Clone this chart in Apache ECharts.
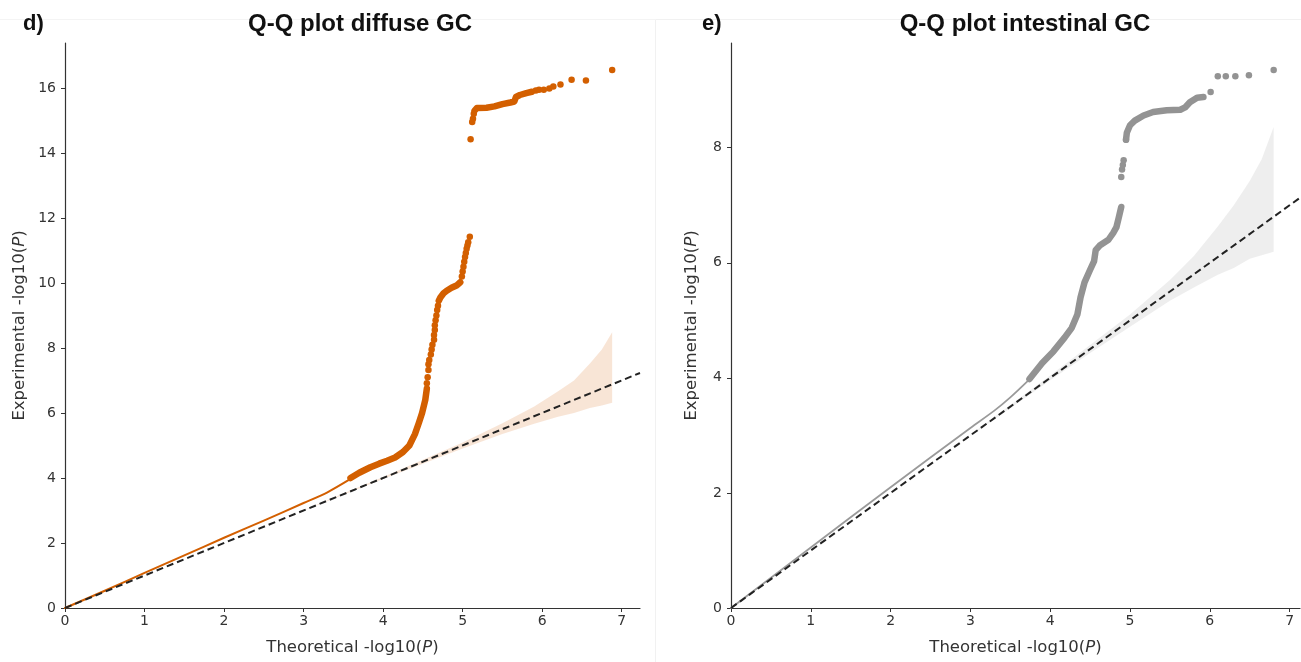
<!DOCTYPE html>
<html>
<head>
<meta charset="utf-8">
<script src="https://cdn.jsdelivr.net/npm/echarts@6/dist/echarts.min.js"></script>
<style>
html,body{margin:0;padding:0;background:#fff;}
#c{width:1301px;height:662px;}
</style>
</head>
<body>
<div id="c"></div>
<script>
// ---------- Panel d) diffuse GC ----------
const dTitle = 'Q-Q plot diffuse GC';
const dXTicks = [0, 1, 2, 3, 4, 5, 6, 7];
const dYTicks = [0, 2, 4, 6, 8, 10, 12, 14, 16];
// thin line part (dense low range)
const dLine = [[0,0],[0.5,0.53],[1,1.08],[1.5,1.62],[2,2.16],[2.5,2.69],[3,3.23],[3.3,3.56],[3.59,3.97]];
// dense (overlapping dot) traces
const dDenseA = [[3.59,4.0],[3.7,4.16],[3.84,4.33],[3.95,4.44],[4.05,4.53],[4.15,4.63],[4.25,4.8],[4.33,5.0],[4.4,5.35],[4.45,5.7],[4.49,6.0],[4.53,6.4],[4.55,6.75]];
const dDenseB = [[4.7,9.45],[4.72,9.55],[4.76,9.68],[4.8,9.76],[4.86,9.85],[4.93,9.93],[4.97,10.02]];
const dDenseC = [[5.15,15.3],[5.18,15.38],[5.3,15.39],[5.4,15.43],[5.5,15.5],[5.6,15.55],[5.65,15.58],[5.67,15.72],[5.72,15.78],[5.8,15.84],[5.87,15.88]];
// separate dots
const dDots = [[4.55,6.91],[4.56,7.1],[4.57,7.32],[4.57,7.5],[4.58,7.63],[4.6,7.8],[4.61,7.95],[4.62,8.1],[4.64,8.25],[4.64,8.4],[4.65,8.55],[4.65,8.7],[4.66,8.85],[4.67,9.0],[4.68,9.17],[4.69,9.3],
  [4.99,10.2],[5.0,10.35],[5.01,10.5],[5.02,10.65],[5.03,10.8],[5.04,10.92],[5.05,11.05],[5.06,11.15],[5.07,11.25],[5.09,11.42],
  [5.1,14.42],[5.12,14.95],[5.13,15.05],[5.14,15.2],
  [5.92,15.92],[5.96,15.94],[6.02,15.94],[6.09,15.98],[6.14,16.04],[6.23,16.1],[6.37,16.25],[6.55,16.23],[6.88,16.55]];
// confidence band
const dBandX = [3.0,3.5,4.0,4.5,5.0,5.5,5.9,6.2,6.4,6.6,6.75,6.88];
const dBandLow = [2.99,3.48,3.97,4.44,4.91,5.35,5.67,5.88,6.0,6.15,6.23,6.31];
const dBandHigh = [3.01,3.52,4.03,4.56,5.09,5.68,6.2,6.67,7.0,7.52,7.95,8.48];
const dDiag = [0, 7.23];

// ---------- Panel e) intestinal GC ----------
const eTitle = 'Q-Q plot intestinal GC';
const eXTicks = [0, 1, 2, 3, 4, 5, 6, 7];
const eYTicks = [0, 2, 4, 6, 8];
const eLine = [[0,0],[1,1.05],[2,2.1],[3,3.13],[3.3,3.43],[3.5,3.66],[3.73,3.96]];
const eDenseA = [[3.74,3.98],[3.9,4.26],[4.04,4.46],[4.18,4.7],[4.27,4.87],[4.34,5.1],[4.38,5.4],[4.43,5.66],[4.5,5.88],[4.55,6.03],[4.57,6.22],[4.62,6.3],[4.73,6.4],[4.79,6.52],[4.83,6.62],[4.86,6.79],[4.89,6.97]];
const eDenseB = [[4.95,8.14],[4.96,8.26],[5.0,8.39],[5.06,8.47],[5.17,8.56],[5.29,8.62],[5.46,8.65],[5.63,8.66],[5.69,8.7],[5.75,8.79],[5.84,8.87],[5.92,8.88]];
const eDots = [[4.89,7.49],[4.9,7.62],[4.91,7.7],[4.92,7.78],[4.95,8.14],
  [6.01,8.97],[6.1,9.24],[6.2,9.24],[6.32,9.24],[6.49,9.26],[6.8,9.35]];
const eBandX = [3.0,3.5,4.0,4.5,5.0,5.5,5.8,6.1,6.3,6.5,6.65,6.8];
const eBandLow = [2.99,3.47,3.96,4.43,4.89,5.34,5.57,5.79,5.91,6.07,6.13,6.19];
const eBandHigh = [3.01,3.53,4.04,4.57,5.1,5.7,6.12,6.63,7.0,7.42,7.8,8.36];
const eDiag = [0, 7.13];

const ORANGE = '#d35f00';
const GREY_DOT = '#939393';
const TICK_FONT = 'DejaVu Sans';
const NAME_SIZE = 16.5;

function bandSeries(idx, xs, lo, hi, fill){
  return {
    type:'custom', xAxisIndex:idx, yAxisIndex:idx, z:1, silent:true,
    data:[[xs[0], lo[0]]],
    encode:{x:0,y:1},
    renderItem:function(params, api){
      const pts = [];
      for(let i=0;i<xs.length;i++) pts.push(api.coord([xs[i], hi[i]]));
      for(let i=xs.length-1;i>=0;i--) pts.push(api.coord([xs[i], lo[i]]));
      return {type:'polygon', shape:{points:pts}, style:{fill:fill}};
    }
  };
}
function lineS(idx, data, color, width, z, smooth){
  return {type:'line', xAxisIndex:idx, yAxisIndex:idx, data:data, showSymbol:false, symbol:'none', z:z,
    smooth:smooth||false,
    lineStyle:{color:color, width:width, cap:'round', join:'round'}, silent:true};
}
function dotS(idx, data, color, size){
  return {type:'scatter', xAxisIndex:idx, yAxisIndex:idx, data:data, symbolSize:size, z:5,
    itemStyle:{color:color, opacity:1}, silent:true};
}
function diagS(idx, ends){
  return {type:'line', xAxisIndex:idx, yAxisIndex:idx, data:ends.map(v=>[v,v]), symbol:'none', z:6, silent:true,
    lineStyle:{color:'#222', width:2, type:[7,4]}};
}
const nameStyle = {fontFamily:TICK_FONT, fontSize:NAME_SIZE, color:'#333',
  rich:{i:{fontStyle:'italic', fontFamily:TICK_FONT, fontSize:NAME_SIZE, color:'#333'}}};
function xAx(idx, max){
  return {type:'value', gridIndex:idx, min:0, max:max, interval:1,
    name:'Theoretical -log10({i|P})', nameLocation:'middle', nameGap:31,
    nameTextStyle:nameStyle,
    axisLine:{show:true, onZero:false, lineStyle:{color:'#333', width:1.2}},
    axisTick:{show:true, length:4, lineStyle:{color:'#333'}},
    axisLabel:{fontFamily:TICK_FONT, fontSize:14, color:'#333', margin:6, showMaxLabel:false,
      formatter:function(v){return Number.isInteger(v)?String(v):'';}},
    splitLine:{show:false}};
}
function yAx(idx, max, gap){
  return {type:'value', gridIndex:idx, min:0, max:max, interval:2,
    name:'Experimental -log10({i|P})', nameLocation:'middle', nameGap:gap, nameRotate:90,
    nameTextStyle:nameStyle,
    axisLine:{show:true, onZero:false, lineStyle:{color:'#333', width:1.2}},
    axisTick:{show:true, length:4, lineStyle:{color:'#333'}},
    axisLabel:{fontFamily:TICK_FONT, fontSize:14, color:'#333', margin:9, showMaxLabel:false,
      formatter:function(v){return Number.isInteger(v)?String(v):'';}},
    splitLine:{show:false}};
}

const chart = echarts.init(document.getElementById('c'), null, {renderer:'canvas'});
chart.setOption({
  animation:false,
  backgroundColor:'#fff',
  title:[
    {text:dTitle, left:355, top:7, textAlign:'center', textStyle:{fontFamily:'Liberation Sans', fontWeight:'bold', fontSize:24, color:'#111'}},
    {text:eTitle, left:1020, top:7, textAlign:'center', textStyle:{fontFamily:'Liberation Sans', fontWeight:'bold', fontSize:24, color:'#111'}},
    {text:'d)', left:18, top:8, textStyle:{fontFamily:'Liberation Sans', fontWeight:'bold', fontSize:22, color:'#111'}},
    {text:'e)', left:697, top:8, textStyle:{fontFamily:'Liberation Sans', fontWeight:'bold', fontSize:22, color:'#111'}}
  ],
  graphic:[
    {type:'rect', shape:{x:655.5, y:19.5, width:660, height:660}, style:{fill:'none', stroke:'#f1f1f1', lineWidth:1}, z:-1, silent:true},
    {type:'line', shape:{x1:0, y1:19.5, x2:655, y2:19.5}, style:{stroke:'#f4f4f4', lineWidth:1}, z:-1, silent:true}
  ],
  grid:[
    {left:65, top:43, width:575, height:565},
    {left:731, top:43, width:569, height:565}
  ],
  xAxis:[xAx(0, 7.23), xAx(1, 7.13)],
  yAxis:[yAx(0, 17.38, 37), yAx(1, 9.82, 31)],
  series:[
    bandSeries(0, dBandX, dBandLow, dBandHigh, 'rgba(213,94,0,0.16)'),
    lineS(0, dLine, ORANGE, 2, 3, 0.3),
    lineS(0, dDenseA, ORANGE, 6.5, 4),
    lineS(0, dDenseB, ORANGE, 6.5, 4),
    lineS(0, dDenseC, ORANGE, 6.5, 4),
    dotS(0, dDots, ORANGE, 6.5),
    diagS(0, dDiag),
    bandSeries(1, eBandX, eBandLow, eBandHigh, 'rgba(160,160,160,0.18)'),
    lineS(1, eLine, '#9a9a9a', 1.8, 3, 0.3),
    lineS(1, eDenseA, GREY_DOT, 6.5, 4),
    lineS(1, eDenseB, GREY_DOT, 6.5, 4),
    dotS(1, eDots, GREY_DOT, 6.5),
    diagS(1, eDiag)
  ]
});
</script>
</body>
</html>
